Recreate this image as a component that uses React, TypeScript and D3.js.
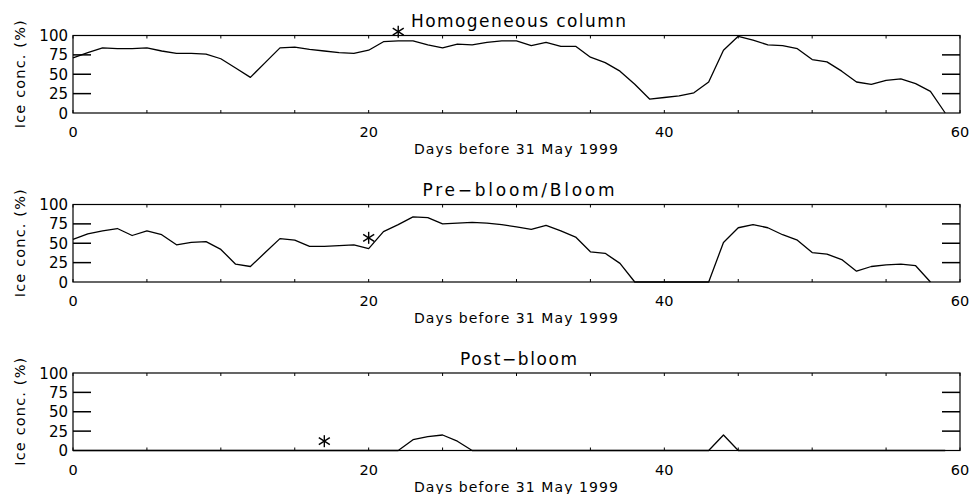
import React from 'react';
import * as d3 from "d3";

// ice concentration (%) per day before 31 May 1999, day 0 first
const homogeneous = [71, 78, 84, 83, 83, 84, 80, 77, 77, 76, 70, 58, 46, 65, 84, 85, 82, 80, 78, 77,
  81, 92, 93, 93, 88, 84, 89, 88, 91, 93, 93, 87, 91, 86, 86, 72, 65, 54, 37, 18,
  20, 22, 26, 40, 81, 99, 94, 88, 87, 83, 69, 66, 54, 40, 37, 42, 44, 38, 28, 0];
const preBloom = [55, 62, 66, 69, 60, 66, 61, 48, 51, 52, 42, 23, 20, 38, 56, 54, 46, 46, 47, 48,
  43, 65, 74, 84, 83, 75, 76, 77, 76, 74, 71, 68, 73, 66, 58, 39, 37, 24, 0, 0,
  0, 0, 0, 0, 51, 70, 74, 70, 61, 54, 38, 36, 29, 14, 20, 22, 23, 21, 0];
const postBloom = [0, 0, 0, 0, 0, 0, 0, 0, 0, 0, 0, 0, 0, 0, 0, 0, 0, 0, 0, 0,
  0, 0, 0, 14, 18, 20, 12, 0, 0, 0, 0, 0, 0, 0, 0, 0, 0, 0, 0, 0,
  0, 0, 0, 0, 20, 0, 0, 0, 0, 0, 0, 0, 0, 0, 0, 0, 0, 0, 0, 0];

const titles = ["Homogeneous column", "Pre\u2212bloom/Bloom", "Post\u2212bloom"];
const series = [homogeneous, preBloom, postBloom];
// sampling day marked with an asterisk: [day, value]
const stars = [[22, 105], [20, 57], [17, 12]];

const xTickLabels = [0, 20, 40, 60];
const xMinor = [0, 5, 10, 15, 20, 25, 30, 35, 40, 45, 50, 55, 60];
const yTickLabels = [0, 25, 50, 75, 100];
const yInnerTicks = [25, 50, 75];

const W = 970, H = 494;
const left = 73, right = 960;
const tops = [35.5, 204.5, 373];
const ph = 77.5;
const font = "'DejaVu Sans', sans-serif";

const Panel = ({ top, title, values, star }) => {
  const x = d3.scaleLinear([0, 60], [left, right]);
  const y = d3.scaleLinear([0, 100], [top + ph, top]);
  const line = d3.line((d, i) => x(i), y);
  const bottom = top + ph;
  const [sx, sy] = [x(star[0]), y(star[1])];
  const titleLen = title.length > 16 ? 215 : title.length > 11 ? 192 : 117;
  return (
    <g>
      <text x={(left + right) / 2 + 2} y={top - 8.5} textAnchor="middle" fontFamily={font} fontSize={17}
        textLength={titleLen} lengthAdjust="spacing">{title}</text>
      <rect x={left} y={top} width={right - left} height={ph} fill="none" stroke="#000" strokeWidth={1.2} />
      {yInnerTicks.map(t => (
        <g key={t}>
          <line x1={left} x2={left + 18} y1={y(t)} y2={y(t)} stroke="#000" strokeWidth={1.5} />
          <line x1={right - 18} x2={right} y1={y(t)} y2={y(t)} stroke="#000" strokeWidth={1.5} />
        </g>
      ))}
      {xMinor.map(t => (
        <g key={t}>
          <line x1={x(t)} x2={x(t)} y1={bottom} y2={bottom - 3} stroke="#000" strokeWidth={1} />
          <line x1={x(t)} x2={x(t)} y1={top} y2={top + 3} stroke="#000" strokeWidth={1} />
        </g>
      ))}
      {yTickLabels.map(t => (
        <text key={t} x={68} y={y(t) + 5.5} textAnchor="end" fontFamily={font} fontSize={15}>{t}</text>
      ))}
      {xTickLabels.map(t => (
        <text key={t} x={x(t)} y={bottom + 24} textAnchor="middle" fontFamily={font} fontSize={14.5}>{t}</text>
      ))}
      <text x={516} y={bottom + 41} textAnchor="middle" fontFamily={font} fontSize={14}
        textLength={204} lengthAdjust="spacing">Days before 31 May 1999</text>
      <text transform={`translate(25,${top + ph / 2}) rotate(-90)`} textAnchor="middle" fontFamily={font}
        fontSize={14.5} textLength={108} lengthAdjust="spacing">Ice conc. (%)</text>
      <path fill="none" stroke="#000" strokeWidth={1.3} strokeLinejoin="round" d={line(values)} />
      <g stroke="#000" strokeWidth={1.4}>
        <line x1={sx} x2={sx} y1={sy - 6} y2={sy + 6} />
        <line x1={sx - 5.5} x2={sx + 5.5} y1={sy - 3.5} y2={sy + 3.5} />
        <line x1={sx - 5.5} x2={sx + 5.5} y1={sy + 3.5} y2={sy - 3.5} />
      </g>
    </g>
  );
};

const App = () => {
  return (
    <svg width={W} height={H} style={{ position: 'absolute', left: 0, top: 0, background: '#fff' }}>
      <rect width={W} height={H} fill="#fff" />
      {series.map((s, i) => (
        <Panel key={i} top={tops[i]} title={titles[i]} values={s} star={stars[i]} />
      ))}
    </svg>
  );
};

export default App;
